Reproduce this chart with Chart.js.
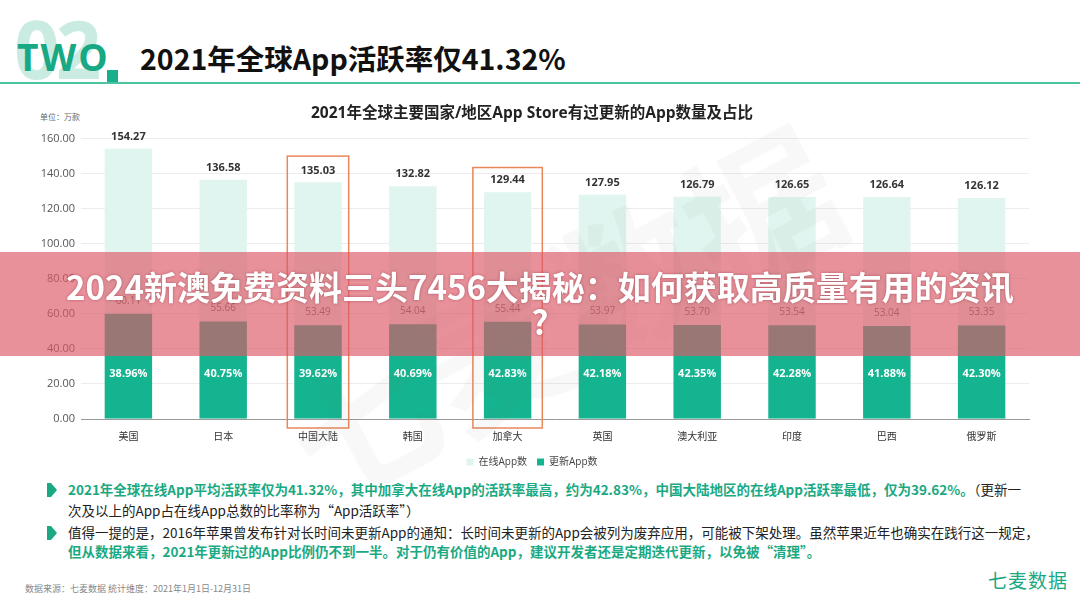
<!DOCTYPE html>
<html>
<head>
<meta charset="utf-8">
<script src="https://cdn.jsdelivr.net/npm/chart.js@4.4.0/dist/chart.umd.min.js"></script>
<style>
  html, body { margin: 0; padding: 0; background: #fff; }
  body { width: 1080px; height: 608px; position: relative; overflow: hidden;
         font-family: "Noto Sans CJK SC", "Noto Sans", sans-serif; }
  .abs { position: absolute; }
  #big02 { left: 14px; top: 8px; font: bold 80px "Open Sans", sans-serif; color: #c9ebe1; letter-spacing: -4px; line-height: 1; }
  #two { left: 17px; top: 38px; font: bold 37px "Open Sans", sans-serif; color: #17a884; letter-spacing: 2px; line-height: 1; }
  #sq { left: 107px; top: 70px; width: 11px; height: 12px; background: #17b08a; }
  #hline { left: 0; top: 82px; width: 1080px; height: 2px; background: #4cc4a2; }
  #htitle { left: 140px; top: 41px; font-weight: bold; font-size: 28.5px; color: #111; line-height: 1.2; white-space: nowrap; }
  #unit { left: 40px; top: 111px; font-size: 8px; color: #666; }
  #wrap { left: 0; top: 95px; width: 1080px; height: 382px; }
  #wm { left: 260px; top: 200px; font-weight: bold; font-size: 150px; color: rgba(120, 120, 120, 0.05);
        transform: rotate(-28deg); white-space: nowrap; pointer-events: none; z-index: 3; }
  #banner { left: 0; top: 252px; width: 1080px; height: 104px; background: rgba(221, 88, 103, 0.66);
            color: #fff; font-weight: bold; font-size: 33px; text-align: center; line-height: 35px;
            padding-top: 17px; box-sizing: border-box; text-shadow: 0 0 3px rgba(120, 30, 40, 0.5); z-index: 5; }
  .line { left: 68px; font-size: 13.5px; letter-spacing: 0; white-space: nowrap; color: #222; line-height: 1; }
  .g { color: #1aa982; font-weight: bold; }
  .bul { left: 47px; width: 10px; height: 14px; background: #1aa982;
         clip-path: polygon(0 0, 40% 0, 100% 50%, 40% 100%, 0 100%); }
  #src { left: 25px; top: 582px; font-size: 9px; color: #888; }
  #brand { left: 988px; top: 566px; font-size: 19px; color: #1aa982; letter-spacing: 1px; }
</style>
</head>
<body>
<div id="big02" class="abs">02</div>
<div id="two" class="abs">TWO</div>
<div id="sq" class="abs"></div>
<div id="hline" class="abs"></div>
<div id="htitle" class="abs">2021年全球App活跃率仅41.32%</div>
<div id="unit" class="abs">单位：万款</div>
<div id="wrap" class="abs"><canvas id="c"></canvas></div>
<div id="wm" class="abs">七麦数据</div>
<div id="banner" class="abs">2024新澳免费资料三头7456大揭秘：如何获取高质量有用的资讯<br>?</div>

<div class="bul abs" style="top:483px"></div>
<div class="line abs" style="top:483px"><span class="g">2021年全球在线App平均活跃率仅为41.32%，其中加拿大在线App的活跃率最高，约为42.83%，中国大陆地区的在线App活跃率最低，仅为39.62%。</span>（更新一</div>
<div class="line abs" style="top:504px">次及以上的App占在线App总数的比率称为“App活跃率”）</div>
<div class="bul abs" style="top:526px"></div>
<div class="line abs" style="top:526px">值得一提的是，2016年苹果曾发布针对长时间未更新App的通知：长时间未更新的App会被列为废弃应用，可能被下架处理。虽然苹果近年也确实在践行这一规定，</div>
<div class="line abs" style="top:545px"><span class="g">但从数据来看，2021年更新过的App比例仍不到一半。对于仍有价值的App，建议开发者还是定期迭代更新，以免被“清理”。</span></div>
<div id="src" class="abs">数据来源：七麦数据 统计维度：2021年1月1日-12月31日</div>
<div id="brand" class="abs">七麦数据</div>

<script>
// data
var regions = ['美国', '日本', '中国大陆', '韩国', '加拿大', '英国', '澳大利亚', '印度', '巴西', '俄罗斯'];
var onlineApps = [154.27, 136.58, 135.03, 132.82, 129.44, 127.95, 126.79, 126.65, 126.64, 126.12];
var updatedApps = [60.11, 55.66, 53.49, 54.04, 55.44, 53.97, 53.70, 53.54, 53.04, 53.35];
var activeRate = ['38.96%', '40.75%', '39.62%', '40.69%', '42.83%', '42.18%', '42.35%', '42.28%', '41.88%', '42.30%'];
// highlighted regions: index, box top value
var highlight = [[2, 150], [4, 143.5]];

var FONT = "'Open Sans', 'Noto Sans CJK SC', sans-serif";

var labelPlugin = {
  id: 'labels',
  afterDatasetsDraw: function (chart) {
    var ctx = chart.ctx;
    var y = chart.scales.y;
    var m0 = chart.getDatasetMeta(0), m1 = chart.getDatasetMeta(1);
    ctx.save();
    ctx.textAlign = 'center';
    ctx.textBaseline = 'middle';
    m0.data.forEach(function (bar, i) {
      ctx.font = 'bold 11px ' + FONT;
      ctx.fillStyle = '#333';
      ctx.fillText(onlineApps[i].toFixed(2), bar.x, bar.y - 12);
    });
    m1.data.forEach(function (bar, i) {
      ctx.font = '10px ' + FONT;
      ctx.fillStyle = '#666';
      ctx.fillText(updatedApps[i].toFixed(2), bar.x, bar.y - 13);
      ctx.font = 'bold 11px ' + FONT;
      ctx.fillStyle = '#fff';
      ctx.fillText(activeRate[i], bar.x, y.getPixelForValue(26));
    });
    // orange highlight boxes
    ctx.strokeStyle = '#e8875a';
    ctx.lineWidth = 1.5;
    highlight.forEach(function (h) {
      var bar = m0.data[h[0]];
      var half = bar.width / 2 + (h[0] === 2 ? 7 : 11);
      var top = y.getPixelForValue(h[1]);
      var bottom = y.getPixelForValue(0) + 9;
      ctx.strokeRect(bar.x - half, top, half * 2, bottom - top);
    });
    ctx.restore();
  }
};

new Chart(document.getElementById('c'), {
  type: 'bar',
  data: {
    labels: regions,
    datasets: [
      { label: '在线App数', data: onlineApps, backgroundColor: '#e0f5ef', order: 2,
        barPercentage: 0.5, categoryPercentage: 1 },
      { label: '更新App数', data: updatedApps, backgroundColor: '#13b48f', order: 1,
        barPercentage: 0.5, categoryPercentage: 1 }
    ]
  },
  options: {
    responsive: true,
    maintainAspectRatio: false,
    animation: false,
    layout: { padding: { left: 35, right: 51, top: 0, bottom: 0 } },
    plugins: {
      title: {
        display: true,
        text: '2021年全球主要国家/地区App Store有过更新的App数量及占比',
        color: '#222',
        font: { family: FONT, size: 15.5, weight: 'bold' },
        padding: { top: 9, bottom: 16 }
      },
      legend: {
        position: 'bottom',
        labels: { boxWidth: 7, boxHeight: 7, padding: 10, color: '#444',
                  font: { family: FONT, size: 10 },
                  sort: function (a, b) { return a.datasetIndex - b.datasetIndex; } }
      },
      tooltip: { enabled: false }
    },
    scales: {
      x: {
        stacked: true,
        grid: { display: false },
        border: { color: '#999' },
        ticks: { color: '#333', font: { family: FONT, size: 10 }, padding: 4 }
      },
      y: {
        stacked: false,
        min: 0, max: 160,
        afterFit: function (s) { s.width = 46; },
        grid: { color: '#ececec', drawTicks: false },
        border: { display: false },
        ticks: { stepSize: 20, color: '#555', padding: 6,
                 font: { family: FONT, size: 11 },
                 callback: function (v) { return Number(v).toFixed(2); } }
      }
    }
  },
  plugins: [labelPlugin]
});
</script>
</body>
</html>
